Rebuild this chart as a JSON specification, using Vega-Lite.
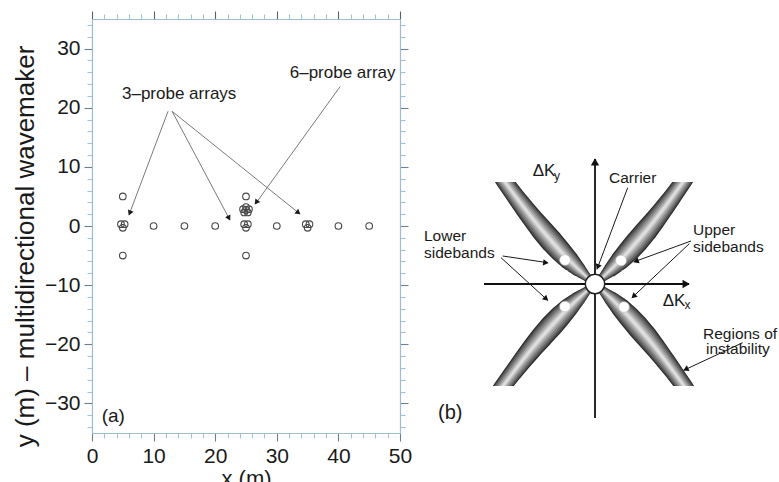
{
  "$schema": "https://vega.github.io/schema/vega-lite/v6.json",
  "background": "white",
  "padding": {"left": 12, "top": 10, "right": 0, "bottom": 0},
  "spacing": 10,
  "config": {"font": "Liberation Sans", "view": {"stroke": null}},
  "datasets": {
    "probes": [
      {"array": "single", "x": 5, "y": 5}, {"array": "single", "x": 5, "y": -5},
      {"array": "single", "x": 25, "y": 5}, {"array": "single", "x": 25, "y": -5},
      {"array": "single", "x": 10, "y": 0}, {"array": "single", "x": 15, "y": 0},
      {"array": "single", "x": 20, "y": 0}, {"array": "single", "x": 30, "y": 0},
      {"array": "single", "x": 40, "y": 0}, {"array": "single", "x": 45, "y": 0},
      {"array": "3-probe", "x": 4.7, "y": 0.3}, {"array": "3-probe", "x": 5.3, "y": 0.3}, {"array": "3-probe", "x": 5.0, "y": -0.3},
      {"array": "3-probe", "x": 24.7, "y": 0.3}, {"array": "3-probe", "x": 25.3, "y": 0.3}, {"array": "3-probe", "x": 25.0, "y": -0.3},
      {"array": "3-probe", "x": 34.7, "y": 0.3}, {"array": "3-probe", "x": 35.3, "y": 0.3}, {"array": "3-probe", "x": 35.0, "y": -0.3},
      {"array": "6-probe", "x": 25, "y": 2.7}, {"array": "6-probe", "x": 25, "y": 3.2},
      {"array": "6-probe", "x": 24.52, "y": 2.85}, {"array": "6-probe", "x": 24.71, "y": 2.3},
      {"array": "6-probe", "x": 25.29, "y": 2.3}, {"array": "6-probe", "x": 25.48, "y": 2.85}
    ],
    "leadersA": [
      {"id": "a1", "x": 12.34, "y": 19.39, "x2": 6.0, "y2": 1.85},
      {"id": "a2", "x": 13.0, "y": 19.39, "x2": 22.4, "y2": 1.0},
      {"id": "a3", "x": 13.0, "y": 19.39, "x2": 33.8, "y2": 2.0},
      {"id": "a4", "x": 40.3, "y": 23.6, "x2": 26.5, "y2": 3.7}
    ],
    "headsA": [
      {"id": "a1", "x": 6.18, "y": 2.33},
      {"id": "a2", "x": 22.17, "y": 1.45},
      {"id": "a3", "x": 33.39, "y": 2.34},
      {"id": "a4", "x": 26.75, "y": 4.11}
    ],
    "textA": [
      {"kind": "note", "label": "3–probe arrays", "x": 4.87, "y": 21.4},
      {"kind": "note", "label": "6–probe array", "x": 32.1, "y": 25.0},
      {"kind": "panel", "label": "(a)", "x": 1.57, "y": -33.1}
    ],
    "lobes": [
      {"lobe": "UR", "i": 0, "x": 0, "y": 0, "w": 0.25}, {"lobe": "UR", "i": 1, "x": 0.81, "y": 0.71, "w": 0.9},
      {"lobe": "UR", "i": 2, "x": 1.64, "y": 1.49, "w": 1.5}, {"lobe": "UR", "i": 3, "x": 2.48, "y": 2.33, "w": 1.95},
      {"lobe": "UR", "i": 4, "x": 3.34, "y": 3.25, "w": 2.2}, {"lobe": "UR", "i": 5, "x": 4.21, "y": 4.24, "w": 2.3},
      {"lobe": "UR", "i": 6, "x": 5.1, "y": 5.29, "w": 2.25}, {"lobe": "UR", "i": 7, "x": 6.0, "y": 6.41, "w": 2.1},
      {"lobe": "UR", "i": 8, "x": 6.92, "y": 7.61, "w": 1.95}, {"lobe": "UR", "i": 9, "x": 7.85, "y": 8.87, "w": 1.8},
      {"lobe": "UR", "i": 10, "x": 8.8, "y": 10.2, "w": 1.7}, {"lobe": "UR", "i": 11, "x": 9.09, "y": 10.61, "w": 1.65},
      {"lobe": "UL", "i": 0, "x": 0, "y": 0, "w": 0.25}, {"lobe": "UL", "i": 1, "x": -0.83, "y": 0.71, "w": 0.9},
      {"lobe": "UL", "i": 2, "x": -1.68, "y": 1.49, "w": 1.5}, {"lobe": "UL", "i": 3, "x": -2.54, "y": 2.33, "w": 1.95},
      {"lobe": "UL", "i": 4, "x": -3.42, "y": 3.25, "w": 2.2}, {"lobe": "UL", "i": 5, "x": -4.31, "y": 4.24, "w": 2.3},
      {"lobe": "UL", "i": 6, "x": -5.22, "y": 5.29, "w": 2.25}, {"lobe": "UL", "i": 7, "x": -6.14, "y": 6.41, "w": 2.1},
      {"lobe": "UL", "i": 8, "x": -7.08, "y": 7.61, "w": 1.95}, {"lobe": "UL", "i": 9, "x": -8.03, "y": 8.87, "w": 1.8},
      {"lobe": "UL", "i": 10, "x": -9.0, "y": 10.2, "w": 1.7}, {"lobe": "UL", "i": 11, "x": -9.3, "y": 10.61, "w": 1.65},
      {"lobe": "LL", "i": 0, "x": 0, "y": 0, "w": 0.25}, {"lobe": "LL", "i": 1, "x": -0.85, "y": -0.71, "w": 0.9},
      {"lobe": "LL", "i": 2, "x": -1.71, "y": -1.49, "w": 1.5}, {"lobe": "LL", "i": 3, "x": -2.59, "y": -2.33, "w": 1.95},
      {"lobe": "LL", "i": 4, "x": -3.49, "y": -3.25, "w": 2.2}, {"lobe": "LL", "i": 5, "x": -4.4, "y": -4.24, "w": 2.3},
      {"lobe": "LL", "i": 6, "x": -5.33, "y": -5.29, "w": 2.25}, {"lobe": "LL", "i": 7, "x": -6.27, "y": -6.41, "w": 2.1},
      {"lobe": "LL", "i": 8, "x": -7.23, "y": -7.61, "w": 1.95}, {"lobe": "LL", "i": 9, "x": -8.2, "y": -8.87, "w": 1.8},
      {"lobe": "LL", "i": 10, "x": -9.2, "y": -10.2, "w": 1.7}, {"lobe": "LL", "i": 11, "x": -9.5, "y": -10.61, "w": 1.65},
      {"lobe": "LR", "i": 0, "x": 0, "y": 0, "w": 0.25}, {"lobe": "LR", "i": 1, "x": 0.82, "y": -0.71, "w": 0.9},
      {"lobe": "LR", "i": 2, "x": 1.66, "y": -1.49, "w": 1.5}, {"lobe": "LR", "i": 3, "x": 2.51, "y": -2.33, "w": 1.95},
      {"lobe": "LR", "i": 4, "x": 3.38, "y": -3.25, "w": 2.2}, {"lobe": "LR", "i": 5, "x": 4.26, "y": -4.24, "w": 2.3},
      {"lobe": "LR", "i": 6, "x": 5.16, "y": -5.29, "w": 2.25}, {"lobe": "LR", "i": 7, "x": 6.07, "y": -6.41, "w": 2.1},
      {"lobe": "LR", "i": 8, "x": 7.0, "y": -7.61, "w": 1.95}, {"lobe": "LR", "i": 9, "x": 7.94, "y": -8.87, "w": 1.8},
      {"lobe": "LR", "i": 10, "x": 8.9, "y": -10.2, "w": 1.7}, {"lobe": "LR", "i": 11, "x": 9.19, "y": -10.61, "w": 1.65}
    ],
    "masksB": [
      {"edge": "top", "x": -11.5, "x2": 11.5, "y": 10.2, "y2": 11.7},
      {"edge": "bottom", "x": -11.5, "x2": 11.5, "y": -10.2, "y2": -11.7}
    ],
    "linesB": [
      {"id": "ky", "kind": "axis", "x": 0, "y": -13.4, "x2": 0, "y2": 12.5},
      {"id": "kx", "kind": "axis", "x": -11.1, "y": 0, "x2": 9.4, "y2": 0},
      {"id": "carrier", "kind": "note", "x": 3.27, "y": 9.63, "x2": 0.2, "y2": 1.47},
      {"id": "low1", "kind": "note", "x": -9.23, "y": 2.8, "x2": -4.73, "y2": 2.13},
      {"id": "low2", "kind": "note", "x": -9.4, "y": 2.63, "x2": -4.73, "y2": -1.63},
      {"id": "up1", "kind": "note", "x": 9.6, "y": 4.3, "x2": 3.93, "y2": 2.23},
      {"id": "up2", "kind": "note", "x": 9.43, "y": 4.03, "x2": 3.7, "y2": -1.37},
      {"id": "reg", "kind": "note", "x": 14.77, "y": -5.87, "x2": 8.87, "y2": -8.63}
    ],
    "headsB": [
      {"id": "ky", "x": 0, "y": 12.1},
      {"id": "kx", "x": 9.0, "y": 0},
      {"id": "carrier", "x": 0.31, "y": 1.78},
      {"id": "low1", "x": -5.0, "y": 2.14},
      {"id": "low2", "x": -4.95, "y": -1.42},
      {"id": "up1", "x": 4.18, "y": 2.3},
      {"id": "up2", "x": 3.92, "y": -1.17},
      {"id": "reg", "x": 9.15, "y": -8.5}
    ],
    "dotsB": [
      {"kind": "sideband", "x": -3.0, "y": 2.4}, {"kind": "sideband", "x": 2.6, "y": 2.35},
      {"kind": "sideband", "x": -3.0, "y": -2.25}, {"kind": "sideband", "x": 2.9, "y": -2.3},
      {"kind": "carrier", "x": 0, "y": 0}
    ],
    "textB": [
      {"kind": "main", "label": "ΔK", "x": -6.23, "y": 10.8},
      {"kind": "sub", "label": "y", "x": -4.1, "y": 10.4},
      {"kind": "main", "label": "ΔK", "x": 6.77, "y": -2.2},
      {"kind": "sub", "label": "x", "x": 8.95, "y": -2.5},
      {"kind": "note", "label": "Carrier", "x": 1.4, "y": 10.1},
      {"kind": "note", "label": "Lower", "x": -17.1, "y": 4.3},
      {"kind": "note", "label": "sidebands", "x": -17.1, "y": 2.65},
      {"kind": "note", "label": "Upper", "x": 9.8, "y": 4.9},
      {"kind": "note", "label": "sidebands", "x": 9.8, "y": 3.25},
      {"kind": "note", "label": "Regions of", "x": 10.8, "y": -5.45},
      {"kind": "note", "label": "instability", "x": 11.1, "y": -7.0},
      {"kind": "panel", "label": "(b)", "x": -15.7, "y": -13.5}
    ]
  },
  "hconcat": [
    {
      "width": 308,
      "height": 414,
      "resolve": {"axis": {"x": "independent", "y": "independent"}},
      "layer": [
        {
          "data": {"name": "probes"},
          "mark": {"type": "point", "shape": "circle", "filled": false, "color": "#474747", "strokeWidth": 1.1, "size": 44, "opacity": 1},
          "encoding": {
            "x": {"field": "x", "type": "quantitative", "scale": {"domain": [0, 50], "nice": false, "zero": false},
              "axis": {"orient": "bottom", "title": "x (m)", "values": [0,2,4,6,8,10,12,14,16,18,20,22,24,26,28,30,32,34,36,38,40,42,44,46,48,50],
                "labelExpr": "datum.value % 10 === 0 ? datum.label : ''", "labelFlush": false, "labelOverlap": false,
                "labelFontSize": 21, "labelColor": "#1a1a1a", "labelPadding": 4, "titleFontSize": 22, "titleFontWeight": "normal", "titleColor": "#1a1a1a", "titlePadding": 2,
                "domainColor": "#9cbccf", "domainWidth": 1.2, "grid": false, "tickWidth": 1.1,
                "tickColor": {"condition": {"test": "datum.value % 10 === 0", "value": "#6b7f8d"}, "value": "#a3c3d5"},
                "tickSize": {"condition": {"test": "datum.value % 10 === 0", "value": 8}, "value": 5}}},
            "y": {"field": "y", "type": "quantitative", "scale": {"domain": [-35, 35], "nice": false, "zero": false},
              "axis": {"orient": "left", "title": "y (m) – multidirectional wavemaker", "values": [-34,-32,-30,-28,-26,-24,-22,-20,-18,-16,-14,-12,-10,-8,-6,-4,-2,0,2,4,6,8,10,12,14,16,18,20,22,24,26,28,30,32,34],
                "labelExpr": "datum.value % 10 === 0 ? datum.label : ''", "labelFlush": false, "labelOverlap": false,
                "labelFontSize": 21, "labelColor": "#1a1a1a", "labelPadding": 4, "titleFontSize": 26, "titleFontWeight": "normal", "titleColor": "#1a1a1a", "titlePadding": 6, "titleY": 227,
                "domainColor": "#9cbccf", "domainWidth": 1.2, "grid": false, "tickWidth": 1.1,
                "tickColor": {"condition": {"test": "datum.value % 10 === 0", "value": "#6b7f8d"}, "value": "#a3c3d5"},
                "tickSize": {"condition": {"test": "datum.value % 10 === 0", "value": 8}, "value": 5}}}
          }
        },
        {
          "data": {"name": "leadersA"},
          "mark": {"type": "rule", "color": "#7a7a7a", "strokeWidth": 1},
          "encoding": {
            "x": {"field": "x", "type": "quantitative", "scale": {"domain": [0, 50], "nice": false, "zero": false},
              "axis": {"orient": "top", "title": null, "labels": false, "values": [0,2,4,6,8,10,12,14,16,18,20,22,24,26,28,30,32,34,36,38,40,42,44,46,48,50],
                "domainColor": "#9cbccf", "domainWidth": 1.2, "grid": false, "tickWidth": 1.1,
                "tickColor": {"condition": {"test": "datum.value % 10 === 0", "value": "#56606a"}, "value": "#a3c3d5"},
                "tickSize": {"condition": {"test": "datum.value % 10 === 0", "value": 8}, "value": 5}}},
            "y": {"field": "y", "type": "quantitative", "scale": {"domain": [-35, 35], "nice": false, "zero": false},
              "axis": {"orient": "right", "title": null, "labels": false, "values": [-34,-32,-30,-28,-26,-24,-22,-20,-18,-16,-14,-12,-10,-8,-6,-4,-2,0,2,4,6,8,10,12,14,16,18,20,22,24,26,28,30,32,34],
                "domainColor": "#9cbccf", "domainWidth": 1.2, "grid": false, "tickWidth": 1.1,
                "tickColor": {"condition": {"test": "datum.value % 10 === 0", "value": "#6b7f8d"}, "value": "#a3c3d5"},
                "tickSize": {"condition": {"test": "datum.value % 10 === 0", "value": 8}, "value": 5}}},
            "x2": {"field": "x2"},
            "y2": {"field": "y2"}
          }
        },
        {
          "data": {"name": "headsA"},
          "transform": [{"filter": "datum.id === 'a1'"}],
          "mark": {"type": "point", "shape": "triangle", "filled": true, "color": "#1a1a1a", "size": 36, "opacity": 1, "angle": 200.6},
          "encoding": {
            "x": {"field": "x", "type": "quantitative", "scale": {"domain": [0, 50], "nice": false, "zero": false}, "axis": null},
            "y": {"field": "y", "type": "quantitative", "scale": {"domain": [-35, 35], "nice": false, "zero": false}, "axis": null}
          }
        },
        {
          "data": {"name": "headsA"},
          "transform": [{"filter": "datum.id === 'a2'"}],
          "mark": {"type": "point", "shape": "triangle", "filled": true, "color": "#1a1a1a", "size": 36, "opacity": 1, "angle": 152},
          "encoding": {
            "x": {"field": "x", "type": "quantitative", "scale": {"domain": [0, 50], "nice": false, "zero": false}, "axis": null},
            "y": {"field": "y", "type": "quantitative", "scale": {"domain": [-35, 35], "nice": false, "zero": false}, "axis": null}
          }
        },
        {
          "data": {"name": "headsA"},
          "transform": [{"filter": "datum.id === 'a3'"}],
          "mark": {"type": "point", "shape": "triangle", "filled": true, "color": "#1a1a1a", "size": 36, "opacity": 1, "angle": 128.8},
          "encoding": {
            "x": {"field": "x", "type": "quantitative", "scale": {"domain": [0, 50], "nice": false, "zero": false}, "axis": null},
            "y": {"field": "y", "type": "quantitative", "scale": {"domain": [-35, 35], "nice": false, "zero": false}, "axis": null}
          }
        },
        {
          "data": {"name": "headsA"},
          "transform": [{"filter": "datum.id === 'a4'"}],
          "mark": {"type": "point", "shape": "triangle", "filled": true, "color": "#1a1a1a", "size": 36, "opacity": 1, "angle": 215.8},
          "encoding": {
            "x": {"field": "x", "type": "quantitative", "scale": {"domain": [0, 50], "nice": false, "zero": false}, "axis": null},
            "y": {"field": "y", "type": "quantitative", "scale": {"domain": [-35, 35], "nice": false, "zero": false}, "axis": null}
          }
        },
        {
          "data": {"name": "textA"},
          "transform": [{"filter": "datum.kind === 'note'"}],
          "mark": {"type": "text", "align": "left", "baseline": "alphabetic", "fontSize": 17, "color": "#1a1a1a"},
          "encoding": {
            "x": {"field": "x", "type": "quantitative", "scale": {"domain": [0, 50], "nice": false, "zero": false}, "axis": null},
            "y": {"field": "y", "type": "quantitative", "scale": {"domain": [-35, 35], "nice": false, "zero": false}, "axis": null},
            "text": {"field": "label"}
          }
        },
        {
          "data": {"name": "textA"},
          "transform": [{"filter": "datum.kind === 'panel'"}],
          "mark": {"type": "text", "align": "left", "baseline": "alphabetic", "fontSize": 19, "color": "#1a1a1a"},
          "encoding": {
            "x": {"field": "x", "type": "quantitative", "scale": {"domain": [0, 50], "nice": false, "zero": false}, "axis": null},
            "y": {"field": "y", "type": "quantitative", "scale": {"domain": [-35, 35], "nice": false, "zero": false}, "axis": null},
            "text": {"field": "label"}
          }
        }
      ]
    },
    {
      "width": 355,
      "height": 414,
      "resolve": {"scale": {"size": "independent"}},
      "encoding": {
        "x": {"field": "x", "type": "quantitative", "scale": {"domain": [-17.3, 18.2], "nice": false, "zero": false}, "axis": null},
        "y": {"field": "y", "type": "quantitative", "scale": {"domain": [-14.9, 26.5], "nice": false, "zero": false}, "axis": null}
      },
      "layer": [
        {
          "data": {"name": "lobes"},
          "mark": {"type": "trail", "color": "#2a2a2a"},
          "encoding": {"detail": {"field": "lobe"}, "order": {"field": "i", "type": "quantitative"},
            "size": {"field": "w", "type": "quantitative", "scale": {"domain": [0, 3], "range": [0, 30]}, "legend": null}}
        },
        {
          "data": {"name": "lobes"},
          "mark": {"type": "trail", "color": "#4a4a4a"},
          "encoding": {"detail": {"field": "lobe"}, "order": {"field": "i", "type": "quantitative"},
            "size": {"field": "w", "type": "quantitative", "scale": {"domain": [0, 3], "range": [0, 27]}, "legend": null}}
        },
        {
          "data": {"name": "lobes"},
          "mark": {"type": "trail", "color": "#686868"},
          "encoding": {"detail": {"field": "lobe"}, "order": {"field": "i", "type": "quantitative"},
            "size": {"field": "w", "type": "quantitative", "scale": {"domain": [0, 3], "range": [0, 23]}, "legend": null}}
        },
        {
          "data": {"name": "lobes"},
          "mark": {"type": "trail", "color": "#868686"},
          "encoding": {"detail": {"field": "lobe"}, "order": {"field": "i", "type": "quantitative"},
            "size": {"field": "w", "type": "quantitative", "scale": {"domain": [0, 3], "range": [0, 18]}, "legend": null}}
        },
        {
          "data": {"name": "lobes"},
          "mark": {"type": "trail", "color": "#a5a5a5"},
          "encoding": {"detail": {"field": "lobe"}, "order": {"field": "i", "type": "quantitative"},
            "size": {"field": "w", "type": "quantitative", "scale": {"domain": [0, 3], "range": [0, 13]}, "legend": null}}
        },
        {
          "data": {"name": "lobes"},
          "mark": {"type": "trail", "color": "#c3c3c3"},
          "encoding": {"detail": {"field": "lobe"}, "order": {"field": "i", "type": "quantitative"},
            "size": {"field": "w", "type": "quantitative", "scale": {"domain": [0, 3], "range": [0, 8]}, "legend": null}}
        },
        {
          "data": {"name": "lobes"},
          "mark": {"type": "trail", "color": "#dedede"},
          "encoding": {"detail": {"field": "lobe"}, "order": {"field": "i", "type": "quantitative"},
            "size": {"field": "w", "type": "quantitative", "scale": {"domain": [0, 3], "range": [0, 4]}, "legend": null}}
        },
        {
          "data": {"name": "masksB"},
          "mark": {"type": "rect", "color": "#ffffff", "opacity": 1},
          "encoding": {"x2": {"field": "x2"}, "y2": {"field": "y2"}}
        },
        {
          "data": {"name": "linesB"},
          "transform": [{"filter": "datum.kind === 'axis'"}],
          "mark": {"type": "rule", "color": "#111111", "strokeWidth": 1.8},
          "encoding": {"x2": {"field": "x2"}, "y2": {"field": "y2"}}
        },
        {
          "data": {"name": "linesB"},
          "transform": [{"filter": "datum.kind === 'note'"}],
          "mark": {"type": "rule", "color": "#1a1a1a", "strokeWidth": 1},
          "encoding": {"x2": {"field": "x2"}, "y2": {"field": "y2"}}
        },
        {"data": {"name": "headsB"}, "transform": [{"filter": "datum.id === 'ky'"}],
          "mark": {"type": "point", "shape": "triangle", "filled": true, "color": "#111111", "size": 70, "opacity": 1, "angle": 0}},
        {"data": {"name": "headsB"}, "transform": [{"filter": "datum.id === 'kx'"}],
          "mark": {"type": "point", "shape": "triangle", "filled": true, "color": "#111111", "size": 70, "opacity": 1, "angle": 90}},
        {"data": {"name": "headsB"}, "transform": [{"filter": "datum.id === 'carrier'"}],
          "mark": {"type": "point", "shape": "triangle", "filled": true, "color": "#111111", "size": 40, "opacity": 1, "angle": 200.9}},
        {"data": {"name": "headsB"}, "transform": [{"filter": "datum.id === 'low1'"}],
          "mark": {"type": "point", "shape": "triangle", "filled": true, "color": "#111111", "size": 40, "opacity": 1, "angle": 97.8}},
        {"data": {"name": "headsB"}, "transform": [{"filter": "datum.id === 'low2'"}],
          "mark": {"type": "point", "shape": "triangle", "filled": true, "color": "#111111", "size": 40, "opacity": 1, "angle": 133}},
        {"data": {"name": "headsB"}, "transform": [{"filter": "datum.id === 'up1'"}],
          "mark": {"type": "point", "shape": "triangle", "filled": true, "color": "#111111", "size": 40, "opacity": 1, "angle": 249.8}},
        {"data": {"name": "headsB"}, "transform": [{"filter": "datum.id === 'up2'"}],
          "mark": {"type": "point", "shape": "triangle", "filled": true, "color": "#111111", "size": 40, "opacity": 1, "angle": 226.5}},
        {"data": {"name": "headsB"}, "transform": [{"filter": "datum.id === 'reg'"}],
          "mark": {"type": "point", "shape": "triangle", "filled": true, "color": "#111111", "size": 40, "opacity": 1, "angle": 245.4}},
        {
          "data": {"name": "dotsB"},
          "transform": [{"filter": "datum.kind === 'sideband'"}],
          "mark": {"type": "point", "shape": "circle", "filled": true, "fill": "#ffffff", "stroke": "#bdbdbd", "strokeWidth": 0.6, "size": 115, "opacity": 1}
        },
        {
          "data": {"name": "dotsB"},
          "transform": [{"filter": "datum.kind === 'carrier'"}],
          "mark": {"type": "point", "shape": "circle", "filled": true, "fill": "#ffffff", "stroke": "#222222", "strokeWidth": 1.5, "size": 380, "opacity": 1}
        },
        {
          "data": {"name": "textB"},
          "transform": [{"filter": "datum.kind === 'main'"}],
          "mark": {"type": "text", "align": "left", "baseline": "alphabetic", "fontSize": 17, "color": "#1a1a1a"},
          "encoding": {"text": {"field": "label"}}
        },
        {
          "data": {"name": "textB"},
          "transform": [{"filter": "datum.kind === 'sub'"}],
          "mark": {"type": "text", "align": "left", "baseline": "alphabetic", "fontSize": 12, "color": "#1a1a1a"},
          "encoding": {"text": {"field": "label"}}
        },
        {
          "data": {"name": "textB"},
          "transform": [{"filter": "datum.kind === 'note'"}],
          "mark": {"type": "text", "align": "left", "baseline": "alphabetic", "fontSize": 15.5, "color": "#1a1a1a"},
          "encoding": {"text": {"field": "label"}}
        },
        {
          "data": {"name": "textB"},
          "transform": [{"filter": "datum.kind === 'panel'"}],
          "mark": {"type": "text", "align": "left", "baseline": "alphabetic", "fontSize": 20, "color": "#1a1a1a"},
          "encoding": {"text": {"field": "label"}}
        }
      ]
    }
  ]
}
